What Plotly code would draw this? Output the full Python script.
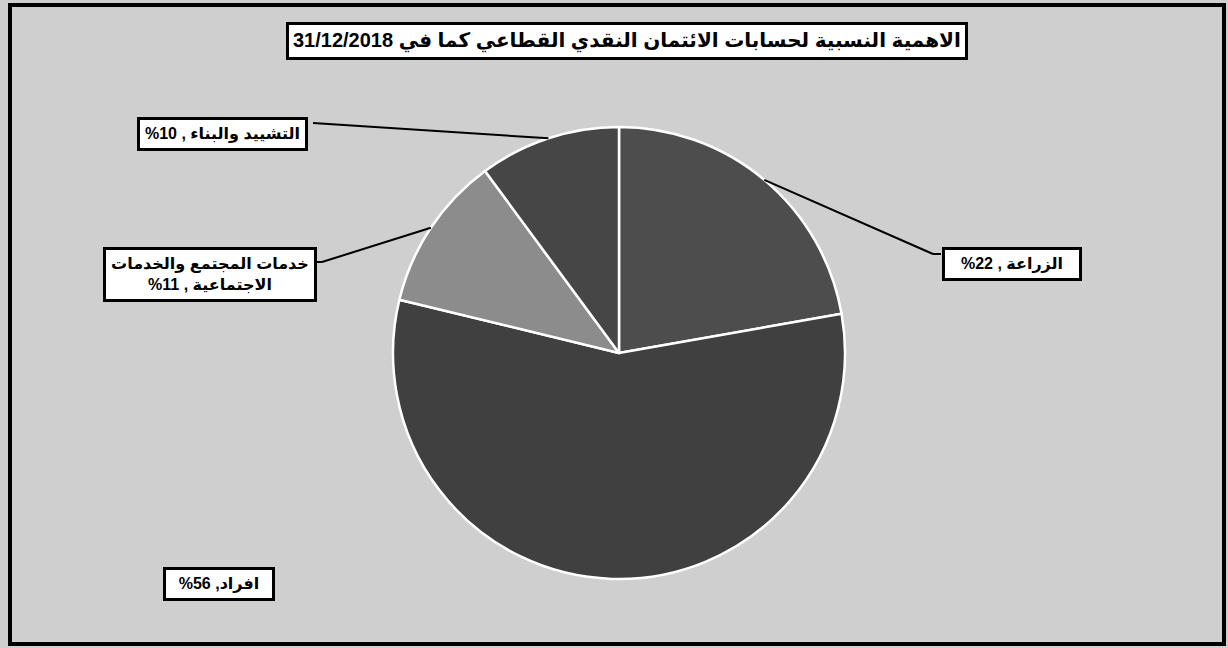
import math
import plotly.graph_objects as go

# data
sectors = ['الزراعة', 'افراد', 'خدمات المجتمع والخدمات الاجتماعية', 'التشييد والبناء']
shares = [22, 56, 11, 10]
colors = ['#4d4d4d', '#404040', '#8c8c8c', '#464646']
label_texts = [
    '<b>%22 , الزراعة</b>',
    '<b>%56 ,افراد</b>',
    '<b>خدمات المجتمع والخدمات<br>%11 , الاجتماعية</b>',
    '<b>%10 , التشييد والبناء</b>',
]
title_text = '<b>31/12/2018 الاهمية النسبية لحسابات الائتمان النقدي القطاعي كما في</b>'

W, H = 1228, 648
cx, cy, rad = 619, 353, 226   # pie centre / radius in pixels

fig = go.Figure(go.Pie(
    labels=sectors,
    values=shares,
    sort=False,
    direction='clockwise',
    rotation=0,
    textinfo='none',
    hoverinfo='label+percent',
    marker=dict(colors=colors, line=dict(color='white', width=2.5)),
    domain=dict(x=[(cx - rad) / W, (cx + rad) / W], y=[(H - cy - rad) / H, (H - cy + rad) / H]),
    showlegend=False,
))

font = dict(family='Arial, Liberation Sans, DejaVu Sans', size=16, color='black')

# label boxes: pixel centre, inner width, and where the leader line leaves the box
boxes = [
    dict(pos=(1012, 264), width=124, anchor=[(933, 254), (941, 254)]),
    dict(pos=(219, 584), width=96, anchor=None),
    dict(pos=(210, 274), width=198, anchor=[(322, 262), (314, 262)]),
    dict(pos=(222, 134), width=155, anchor=[(313, 123)]),
]

shapes = []
total = sum(shares)
cum = 0
for val, box in zip(shares, boxes):
    mid = (cum + val / 2) / total * 2 * math.pi
    cum += val
    if box['anchor'] is None:
        continue
    ex = cx + rad * math.sin(mid)
    ey = cy - rad * math.cos(mid)
    pts = [(ex, ey)] + box['anchor']
    for (x0, y0), (x1, y1) in zip(pts[:-1], pts[1:]):
        shapes.append(dict(type='line', xref='paper', yref='paper',
                           x0=x0 / W, y0=1 - y0 / H, x1=x1 / W, y1=1 - y1 / H,
                           line=dict(color='black', width=2)))

annotations = []
for txt, box in zip(label_texts, boxes):
    px, py = box['pos']
    annotations.append(dict(
        x=px / W, y=1 - py / H, xref='paper', yref='paper',
        xanchor='center', yanchor='middle', width=box['width'],
        text=txt, showarrow=False, font=font, align='center',
        bgcolor='white', bordercolor='black', borderwidth=3, borderpad=5,
    ))

annotations.append(dict(
    x=627 / W, y=1 - 41 / H, xref='paper', yref='paper',
    xanchor='center', yanchor='middle',
    text=title_text, showarrow=False,
    font=dict(family='Arial, Liberation Sans, DejaVu Sans', size=20, color='black'),
    bgcolor='white', bordercolor='black', borderwidth=3, borderpad=4,
))

# outer frame
shapes.append(dict(type='rect', xref='paper', yref='paper',
                   x0=10 / W, y0=1 - 644 / H, x1=1224 / W, y1=1 - 5 / H,
                   line=dict(color='black', width=4), fillcolor='rgba(0,0,0,0)'))

fig.update_layout(
    width=W, height=H,
    margin=dict(l=0, r=0, t=0, b=0),
    paper_bgcolor='#cfcfcf',
    plot_bgcolor='#cfcfcf',
    shapes=shapes,
    annotations=annotations,
)

fig.write_html('out.html', config={'displayModeBar': False},
               post_script="document.body.style.margin='0';")
